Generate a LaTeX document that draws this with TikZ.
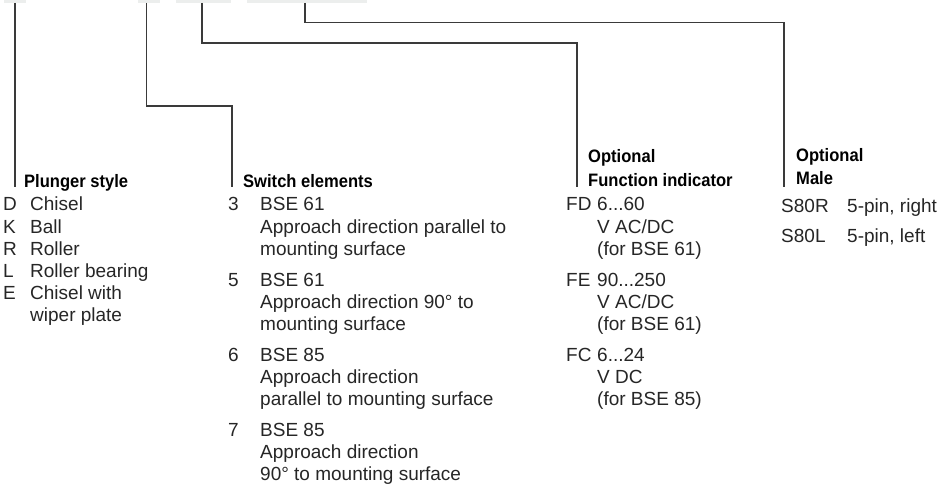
\documentclass[tikz,border=0pt]{standalone}
\usepackage{fontspec}
\setmainfont{Liberation Sans}
\newfontfamily\hdfamily{Liberation Sans}[FakeStretch=0.92]
\newcommand\hdfont{\hdfamily\bfseries\fontsize{18}{23}\selectfont}
\newcommand\txfont{\fontsize{19}{22}\selectfont}
\definecolor{boxgray}{HTML}{ECEEED}
\definecolor{linegray}{HTML}{3A3A3A}
\definecolor{txtgray}{HTML}{262626}
\tikzset{
  hd/.style={font=\hdfont, anchor=base west, inner sep=0pt, text=black},
  tx/.style={font=\txfont, anchor=base west, inner sep=0pt, text=txtgray},
  conn/.style={draw=linegray, line width=1.1pt},
  greybox/.style={fill=boxgray, draw=none, anchor=north west, inner sep=0pt, minimum height=3pt},
}
\begin{document}
\begin{tikzpicture}[x=1pt,y=-1pt]
\useasboundingbox (0,0) rectangle (948,492);
% grey boxes at top
\node[greybox, minimum width=22pt] (b1) at (4,0) {};
\node[greybox, minimum width=22pt] (b2) at (138,0) {};
\node[greybox, minimum width=55pt] (b3) at (176,0) {};
\node[greybox, minimum width=120pt] (b4) at (247,0) {};
% connector points
\coordinate (s1) at (15,3);
\coordinate (e1) at (15,187);
\coordinate (s2) at (146.5,3);
\coordinate (k2) at (232,106);
\coordinate (e2) at (232,187);
\coordinate (s3) at (202,3);
\coordinate (k3) at (577,43);
\coordinate (e3) at (577,187);
\coordinate (s4) at (305,3);
\coordinate (k4) at (784,22.5);
\coordinate (e4) at (784,187);
\draw[conn] (s1) -- (e1);
\draw[conn] (s2) |- (k2) -- (e2);
\draw[conn] (s3) |- (k3) -- (e3);
\draw[conn] (s4) |- (k4) -- (e4);
% Plunger style
\node[hd] (h1) at (24,187) {Plunger style};
\node[tx] (p1c) at (3,211) {D};
\node[tx] (p1t) at (30,211) {Chisel};
\node[tx] (p2c) at (3,233) {K};
\node[tx] (p2t) at (30,233) {Ball};
\node[tx] (p3c) at (3,255) {R};
\node[tx] (p3t) at (30,255) {Roller};
\node[tx] (p4c) at (3,277) {L};
\node[tx] (p4t) at (30,277) {Roller bearing};
\node[tx] (p5c) at (3,299) {E};
\node[tx] (p5t) at (30,299) {Chisel with};
\node[tx] (p5u) at (30,321) {wiper plate};
% Switch elements
\node[hd] (h2) at (243,187) {Switch elements};
\node[tx] (s3c) at (228,211) {3};
\node[tx] (s3a) at (260,211) {BSE 61};
\node[tx] (s3b) at (260,233) {Approach direction parallel to};
\node[tx] (s3d) at (260,255) {mounting surface};
\node[tx] (s5c) at (228,286) {5};
\node[tx] (s5a) at (260,286) {BSE 61};
\node[tx] (s5b) at (260,308) {Approach direction 90° to};
\node[tx] (s5d) at (260,330) {mounting surface};
\node[tx] (s6c) at (228,361) {6};
\node[tx] (s6a) at (260,361) {BSE 85};
\node[tx] (s6b) at (260,383) {Approach direction};
\node[tx] (s6d) at (260,405) {parallel to mounting surface};
\node[tx] (s7c) at (228,436) {7};
\node[tx] (s7a) at (260,436) {BSE 85};
\node[tx] (s7b) at (260,458) {Approach direction};
\node[tx] (s7d) at (260,480) {90° to mounting surface};
% Function indicator
\node[hd] (h3a) at (588,163) {Optional};
\node[hd] (h3b) at (588,186) {Function indicator};
\node[tx] (fdc) at (566,211) {FD};
\node[tx] (fda) at (597,211) {6...60};
\node[tx] (fdb) at (597,233) {V AC/DC};
\node[tx] (fdd) at (597,255) {(for BSE 61)};
\node[tx] (fec) at (566,286) {FE};
\node[tx] (fea) at (597,286) {90...250};
\node[tx] (feb) at (597,308) {V AC/DC};
\node[tx] (fed) at (597,330) {(for BSE 61)};
\node[tx] (fcc) at (566,361) {FC};
\node[tx] (fca) at (597,361) {6...24};
\node[tx] (fcb) at (597,383) {V DC};
\node[tx] (fcd) at (597,405) {(for BSE 85)};
% Male
\node[hd] (h4a) at (796,161) {Optional};
\node[hd] (h4b) at (796,184) {Male};
\node[tx] (m1c) at (781,212) {S80R};
\node[tx] (m1t) at (847,212) {5-pin, right};
\node[tx] (m2c) at (781,242) {S80L};
\node[tx] (m2t) at (847,242) {5-pin, left};
\end{tikzpicture}
\end{document}
